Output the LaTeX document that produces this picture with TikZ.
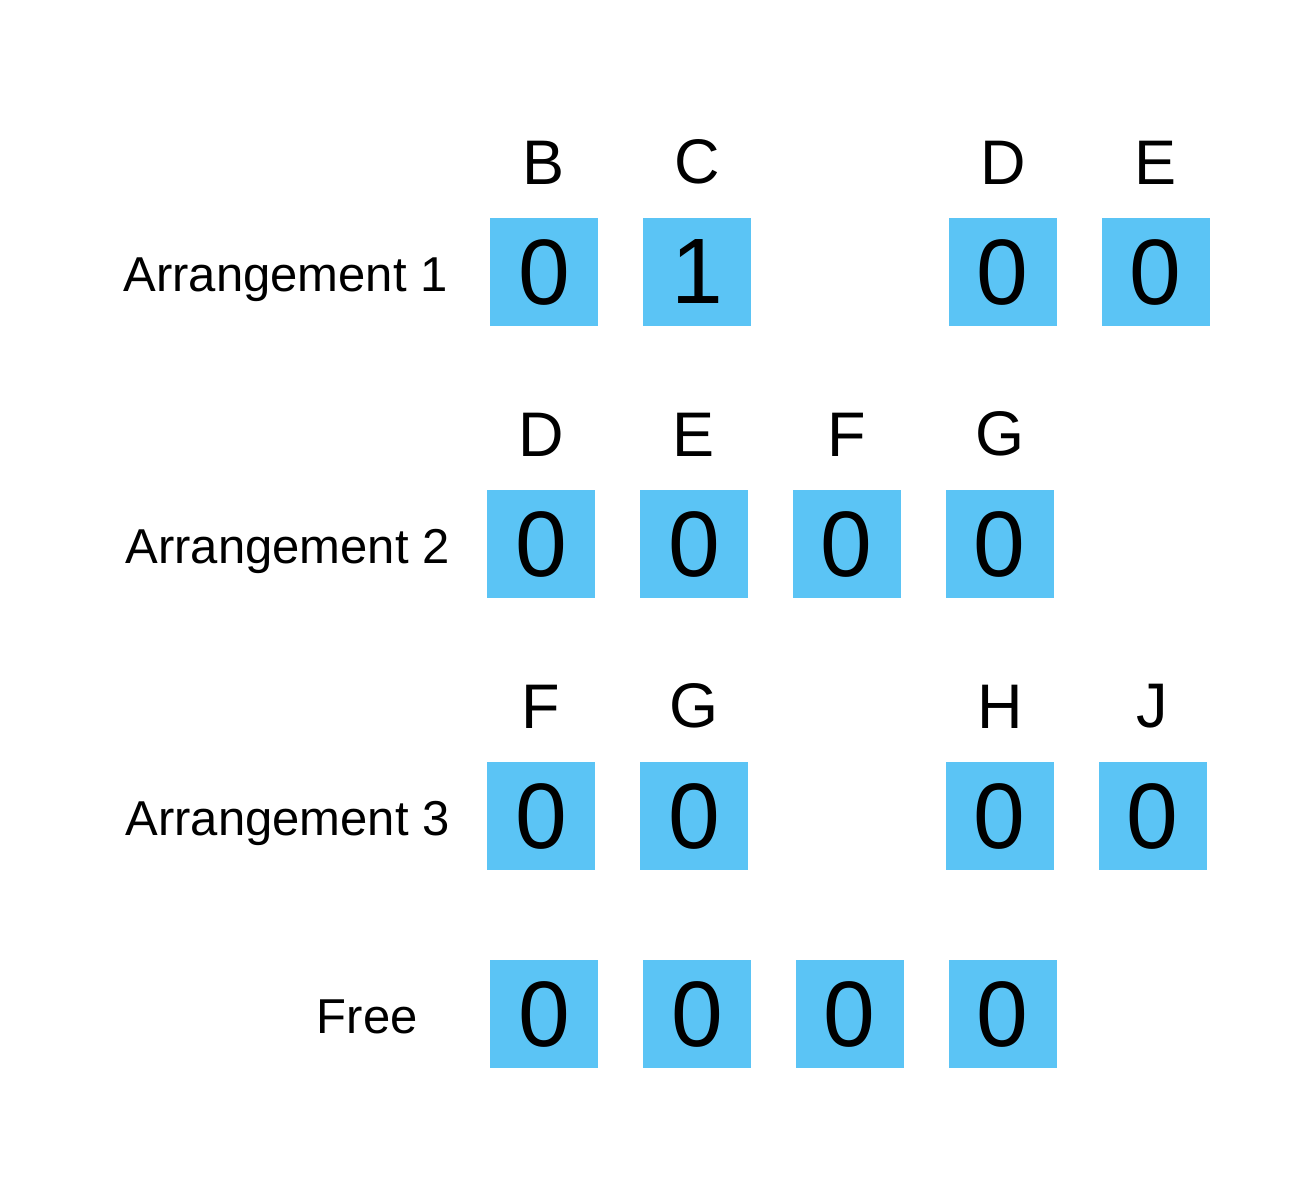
\documentclass[tikz,border=0pt]{standalone}
\usepackage{fontspec}
\setmainfont{Liberation Sans}
\usetikzlibrary{positioning, calc}
\definecolor{cellblue}{RGB}{91,196,245}

\begin{document}
\begin{tikzpicture}[
  x=1pt, y=1pt,
  cell/.style   = {fill=cellblue, minimum size=108pt, inner sep=0pt,
                   font=\fontsize{93}{100}\selectfont},
  head/.style   = {inner sep=0pt, font=\fontsize{63}{70}\selectfont},
  rowlab/.style = {inner sep=0pt, anchor=base east,
                   font=\fontsize{49}{58}\selectfont},
]
  \useasboundingbox (0,0) rectangle (1312,1184);

  % Arrangement 1
  \node[cell]                         (c11) at (544,912) {0};
  \node[cell, right=44.5pt of c11]    (c12) {1};
  \node[cell, right=197.5pt of c12]   (c13) {0};
  \node[cell, right=44.5pt of c13]    (c14) {0};
  \node[head, above=33pt of c11] (h11) {B};
  \node[head, above=33pt of c12] (h12) {C};
  \node[head, above=33pt of c13] (h13) {D};
  \node[head, above=33pt of c14] (h14) {E};
  \node[rowlab] (lab1) at ($(c11.west)+(-42pt,-20pt)$) {Arrangement 1};

  % Arrangement 2
  \node[cell]                         (c21) at (541,640) {0};
  \node[cell, right=44.5pt of c21]    (c22) {0};
  \node[cell, right=44.5pt of c22]    (c23) {0};
  \node[cell, right=44.5pt of c23]    (c24) {0};
  \node[head, above=33pt of c21] (h21) {D};
  \node[head, above=33pt of c22] (h22) {E};
  \node[head, above=33pt of c23] (h23) {F};
  \node[head, above=33pt of c24] (h24) {G};
  \node[rowlab] (lab2) at ($(c21.west)+(-37pt,-20pt)$) {Arrangement 2};

  % Arrangement 3
  \node[cell]                         (c31) at (541,368) {0};
  \node[cell, right=44.5pt of c31]    (c32) {0};
  \node[cell, right=197.5pt of c32]   (c33) {0};
  \node[cell, right=44.5pt of c33]    (c34) {0};
  \node[head, above=33pt of c31] (h31) {F};
  \node[head, above=33pt of c32] (h32) {G};
  \node[head, above=33pt of c33] (h33) {H};
  \node[head, above=33pt of c34] (h34) {J};
  \node[rowlab] (lab3) at ($(c31.west)+(-37pt,-20pt)$) {Arrangement 3};

  % free slots
  \node[cell]                         (c41) at (544,170) {0};
  \node[cell, right=44.5pt of c41]    (c42) {0};
  \node[cell, right=44.5pt of c42]    (c43) {0};
  \node[cell, right=44.5pt of c43]    (c44) {0};
  \node[rowlab] (lab4) at ($(c41.west)+(-72pt,-19pt)$) {Free};
\end{tikzpicture}
\end{document}
